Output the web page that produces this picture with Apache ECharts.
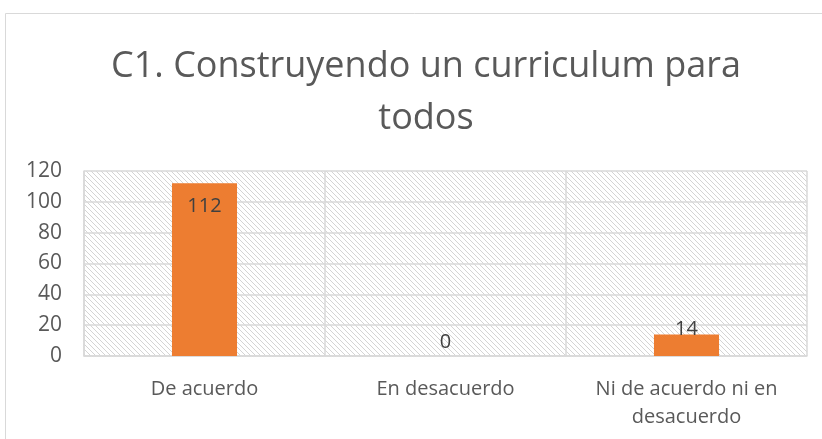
<!DOCTYPE html>
<html>
<head>
<meta charset="utf-8">
<script src="https://cdn.jsdelivr.net/npm/echarts@6/dist/echarts.min.js"></script>
<style>
  html, body { margin: 0; padding: 0; background: #fff; }
  #chart { width: 822px; height: 439px; }
</style>
</head>
<body>
<div id="chart"></div>
<script>
  const categories = ['De acuerdo', 'En desacuerdo', 'Ni de acuerdo ni en\ndesacuerdo'];
  const values = [112, 0, 14];
  const yTicks = [0, 20, 40, 60, 80, 100, 120];
  const titleText = 'C1. Construyendo un curriculum para\ntodos';

  // diagonal hatch for plot background
  const makeHatch = () => {
    const c = document.createElement('canvas');
    c.width = 5; c.height = 5;
    const ctx = c.getContext('2d');
    ctx.strokeStyle = '#d4d4d4';
    ctx.lineWidth = 1;
    ctx.beginPath();
    ctx.moveTo(-1, -1); ctx.lineTo(6, 6);
    ctx.moveTo(-1, 4); ctx.lineTo(1, 6);
    ctx.moveTo(4, -1); ctx.lineTo(6, 1);
    ctx.stroke();
    return c;
  };

  const chart = echarts.init(document.getElementById('chart'));
  const font = '"Open Sans", sans-serif';

  // label placement per bar (Excel moved the tall one inside)
  const labelPos = ['insideTop', 'top', 'top'];
  const labelDist = [13, 4, -5];

  chart.setOption({
    animation: false,
    title: {
      text: titleText,
      left: 421,
      top: 36,
      textAlign: 'center',
      textStyle: {
        fontFamily: font,
        fontSize: 36,
        fontWeight: 'normal',
        color: '#595959',
        lineHeight: 52
      }
    },
    graphic: [{
      type: 'rect',
      shape: { x: 5.5, y: 13.5, width: 840, height: 440 },
      style: { fill: 'none', stroke: '#d9d9d9', lineWidth: 1 },
      silent: true
    }],
    grid: {
      left: 84, right: 15, top: 171, bottom: 83,
      show: true,
      borderWidth: 0,
      backgroundColor: { image: makeHatch(), repeat: 'repeat' }
    },
    xAxis: {
      type: 'category',
      data: categories,
      axisTick: { show: false },
      axisLine: { lineStyle: { color: '#d9d9d9', width: 1.5 } },
      splitLine: { show: true, lineStyle: { color: '#d9d9d9', width: 1.5 } },
      axisLabel: {
        color: '#595959', fontFamily: font, fontSize: 20,
        margin: 19, lineHeight: 28, interval: 0
      }
    },
    yAxis: {
      type: 'value',
      min: 0, max: 120, interval: 20,
      axisLine: { show: true, lineStyle: { color: '#d9d9d9', width: 1.5 } },
      axisTick: { show: false },
      splitLine: { lineStyle: { color: '#d9d9d9', width: 1.5 } },
      axisLabel: {
        color: '#595959', fontFamily: font, fontSize: 21, margin: 22,
        formatter: v => yTicks.includes(v) ? String(v) : ''
      }
    },
    series: [{
      type: 'bar',
      data: values.map((v, i) => ({
        value: v,
        label: { position: labelPos[i], distance: labelDist[i] }
      })),
      barWidth: '27%',
      itemStyle: { color: '#ed7d31' },
      label: {
        show: true,
        color: '#404040',
        fontFamily: font,
        fontSize: 20
      }
    }]
  });
</script>
</body>
</html>
